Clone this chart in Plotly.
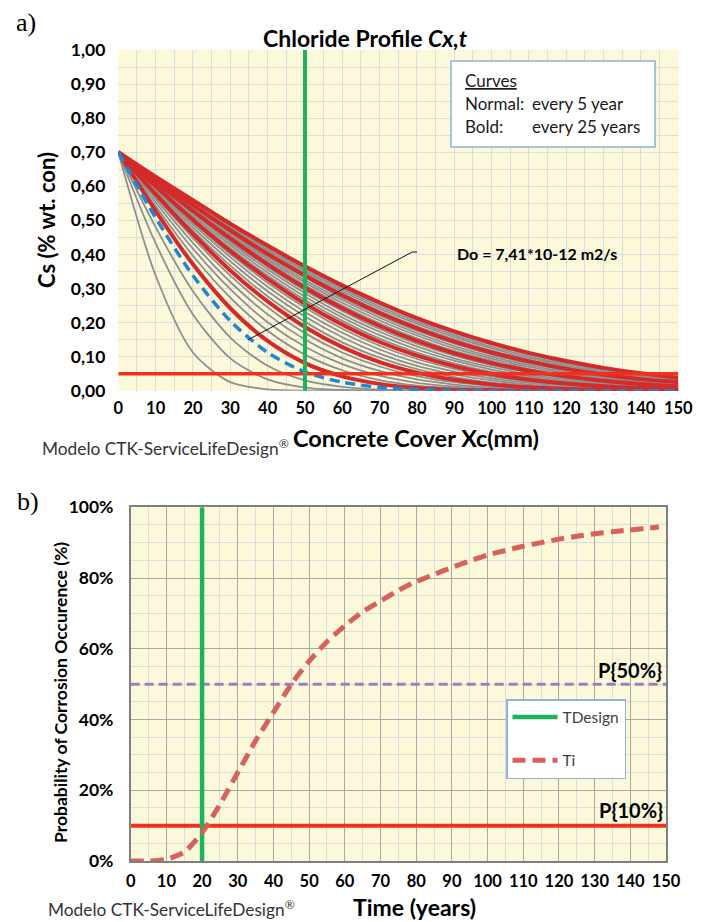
import plotly.graph_objects as go

# ---------------- data: chart a) chloride profiles ----------------
COVER_MM = [0, 10, 20, 30, 40, 50, 60, 70, 80, 90, 100, 110, 120, 130, 140, 150]
PROFILE_YEARS = [5, 10, 15, 20, 25, 30, 35, 40, 45, 50, 55, 60, 65, 70, 75,
                 80, 85, 90, 95, 100, 105, 110, 115, 120, 125, 130, 135, 140, 145, 150]
CHLORIDE_PROFILES = [
    [.700, .338, .112, .025, .004, 0, 0, 0, 0, 0, 0, 0, 0, 0, 0, 0],
    [.700, .433, .224, .095, .033, .009, .002, 0, 0, 0, 0, 0, 0, 0, 0, 0],
    [.700, .480, .292, .156, .073, .030, .011, .003, .001, 0, 0, 0, 0, 0, 0, 0],
    [.700, .508, .338, .205, .112, .055, .025, .010, .003, .001, 0, 0, 0, 0, 0, 0],
    [.700, .528, .371, .242, .146, .081, .042, .020, .008, .003, .001, 0, 0, 0, 0, 0],
    [.700, .542, .396, .273, .176, .106, .060, .031, .015, .007, .003, .001, 0, 0, 0, 0],
    [.700, .553, .417, .298, .201, .129, .078, .044, .023, .012, .005, .002, .001, 0, 0, 0],
    [.700, .563, .434, .319, .224, .150, .095, .058, .033, .018, .009, .004, .002, .001, 0, 0],
    [.700, .570, .448, .338, .245, .169, .112, .071, .043, .025, .014, .007, .003, .002, .001, 0],
    [.700, .577, .460, .353, .262, .187, .128, .084, .053, .032, .018, .010, .005, .003, .001, .001],
    [.700, .582, .470, .367, .277, .202, .142, .097, .063, .040, .024, .014, .008, .004, .002, .001],
    [.700, .587, .479, .380, .292, .218, .157, .109, .073, .048, .030, .018, .011, .006, .003, .002],
    [.700, .592, .488, .392, .305, .231, .170, .121, .083, .056, .036, .023, .014, .008, .005, .002],
    [.700, .596, .495, .401, .317, .244, .182, .132, .093, .064, .042, .027, .017, .010, .006, .003],
    [.700, .600, .501, .410, .328, .255, .194, .143, .103, .072, .049, .032, .021, .013, .008, .004],
    [.700, .603, .508, .419, .338, .266, .205, .153, .112, .080, .055, .038, .025, .016, .010, .006],
    [.700, .606, .513, .427, .347, .276, .215, .163, .121, .088, .062, .043, .029, .019, .012, .007],
    [.700, .608, .519, .434, .356, .286, .224, .173, .130, .095, .069, .048, .033, .022, .015, .009],
    [.700, .610, .523, .440, .363, .294, .234, .181, .138, .103, .075, .053, .037, .025, .017, .011],
    [.700, .613, .528, .447, .371, .302, .242, .190, .146, .110, .081, .059, .042, .029, .020, .013],
    [.700, .615, .531, .452, .378, .310, .250, .198, .154, .117, .088, .064, .046, .032, .022, .015],
    [.700, .617, .535, .457, .384, .318, .258, .206, .162, .124, .094, .070, .051, .036, .025, .017],
    [.700, .618, .539, .462, .390, .325, .266, .214, .169, .131, .100, .075, .055, .040, .028, .020],
    [.700, .620, .542, .467, .396, .332, .272, .221, .176, .138, .106, .080, .060, .044, .031, .022],
    [.700, .622, .545, .471, .401, .338, .280, .228, .183, .144, .112, .086, .064, .047, .034, .025],
    [.700, .623, .548, .476, .407, .344, .286, .234, .189, .151, .118, .091, .069, .051, .038, .027],
    [.700, .624, .551, .480, .412, .350, .292, .241, .196, .157, .124, .096, .073, .055, .041, .030],
    [.700, .626, .553, .483, .417, .355, .298, .247, .202, .163, .129, .101, .078, .059, .044, .033],
    [.700, .627, .556, .487, .421, .360, .303, .253, .208, .169, .135, .106, .082, .063, .047, .035],
    [.700, .628, .559, .490, .426, .365, .309, .259, .213, .174, .140, .111, .087, .067, .051, .038],
]
BOLD_EVERY_YEARS = 25
DESIGN_YEAR_PROFILE = 20          # dashed blue profile
DESIGN_COVER_MM = 50              # green vertical line
CRITICAL_CHLORIDE = 0.05          # red horizontal line
LEADER_X = [34.7, 78.7, 80.0]     # leader line of the Do note (data units)
LEADER_Y = [0.149, 0.407, 0.407]
X_TICKS_A = list(range(0, 151, 10))
Y_TICKS_A = [i / 10 for i in range(11)]

# ---------------- data: chart b) probability of corrosion ----------------
TIME_YEARS = [0, 5, 10, 15, 20, 25, 30, 35, 40, 45, 50, 55, 60, 65, 70, 75, 80,
              85, 90, 95, 100, 105, 110, 115, 120, 125, 130, 135, 140, 145, 148]
P_TI = [0.0, 0.0, 0.005, 0.025, 0.08, 0.16, 0.25, 0.34, 0.42, 0.50, 0.565, 0.62,
        0.665, 0.705, 0.735, 0.765, 0.79, 0.81, 0.83, 0.848, 0.865, 0.878, 0.89,
        0.90, 0.91, 0.918, 0.925, 0.931, 0.936, 0.941, 0.944]
T_DESIGN = 20
P_LIMIT_50 = 0.50
P_LIMIT_10 = 0.10
X_TICKS_B = list(range(0, 151, 10))
Y_TICKS_B = [0, 0.2, 0.4, 0.6, 0.8, 1.0]

W, H = 706, 922
FONT = "Lato"


def px(x):
    return x / W


def py(y):
    return 1 - y / H


fig = go.Figure()

GRAY = "#8E8E8E"
RED = "#D42A2A"
BLUE = "#1F86D2"
GREEN = "#20B25B"
LINE_RED = "#F2301F"

# gray normal profiles
for yr, vals in zip(PROFILE_YEARS, CHLORIDE_PROFILES):
    if yr % BOLD_EVERY_YEARS == 0 or yr == DESIGN_YEAR_PROFILE:
        continue
    fig.add_trace(go.Scatter(x=COVER_MM, y=vals, mode="lines", xaxis="x", yaxis="y",
                             line=dict(color=GRAY, width=1.8, shape="spline", smoothing=0.8),
                             showlegend=False, hoverinfo="skip"))
# bold profiles
for yr, vals in zip(PROFILE_YEARS, CHLORIDE_PROFILES):
    if yr % BOLD_EVERY_YEARS != 0:
        continue
    fig.add_trace(go.Scatter(x=COVER_MM, y=vals, mode="lines", xaxis="x", yaxis="y",
                             line=dict(color=RED, width=4, shape="spline", smoothing=0.8),
                             showlegend=False, hoverinfo="skip"))
# design profile
design_vals = CHLORIDE_PROFILES[PROFILE_YEARS.index(DESIGN_YEAR_PROFILE)]
fig.add_trace(go.Scatter(x=COVER_MM, y=design_vals, mode="lines", xaxis="x", yaxis="y",
                         line=dict(color=BLUE, width=3.5, dash="10px,6px", shape="spline", smoothing=0.8),
                         showlegend=False, hoverinfo="skip"))
# critical chloride line and design cover line
fig.add_trace(go.Scatter(x=[X_TICKS_A[0], X_TICKS_A[-1]], y=[CRITICAL_CHLORIDE] * 2,
                         mode="lines", xaxis="x", yaxis="y",
                         line=dict(color=LINE_RED, width=3.5), showlegend=False, hoverinfo="skip"))
fig.add_trace(go.Scatter(x=[DESIGN_COVER_MM] * 2, y=[Y_TICKS_A[0], Y_TICKS_A[-1]],
                         mode="lines", xaxis="x", yaxis="y",
                         line=dict(color=GREEN, width=4), showlegend=False, hoverinfo="skip"))
# leader line of note
fig.add_trace(go.Scatter(x=LEADER_X, y=LEADER_Y, mode="lines", xaxis="x", yaxis="y",
                         line=dict(color="#111111", width=1), showlegend=False, hoverinfo="skip"))

# ---------- chart b ----------
fig.add_trace(go.Scatter(x=[X_TICKS_B[0], X_TICKS_B[-1]], y=[P_LIMIT_10] * 2, mode="lines",
                         xaxis="x2", yaxis="y2", line=dict(color=LINE_RED, width=4),
                         showlegend=False, hoverinfo="skip"))
fig.add_trace(go.Scatter(x=[X_TICKS_B[0], X_TICKS_B[-1]], y=[P_LIMIT_50] * 2, mode="lines",
                         xaxis="x2", yaxis="y2", line=dict(color="#9A7FBF", width=3, dash="9px,5px"),
                         showlegend=False, hoverinfo="skip"))
fig.add_trace(go.Scatter(x=[T_DESIGN] * 2, y=[Y_TICKS_B[0], Y_TICKS_B[-1]], mode="lines",
                         xaxis="x2", yaxis="y2", line=dict(color=GREEN, width=4.5),
                         name="TDesign", legendgroup="a", hoverinfo="skip"))
fig.add_trace(go.Scatter(x=TIME_YEARS, y=P_TI, mode="lines", xaxis="x2", yaxis="y2",
                         line=dict(color="#D6625A", width=5, dash="13px,7px", shape="spline", smoothing=0.6),
                         name="Ti", legendgroup="b", hoverinfo="skip"))

ytickfont = dict(family=FONT, size=17.5, color="black", weight="bold")
xtickfont = dict(family=FONT, size=16.5, color="black", weight="bold")
LIGHT = "#DCDCDC"
DARK = "#A8A8A8"

fig.update_layout(
    template="none",
    width=W, height=H,
    margin=dict(l=0, r=0, t=0, b=0),
    paper_bgcolor="white",
    separators=",.",
    showlegend=True,
    xaxis=dict(domain=[px(118.3), px(678.3)], range=[0, 150], anchor="y",
               tickvals=X_TICKS_A, ticks="", tickfont=xtickfont, ticklabelstandoff=6,
               showgrid=True, gridcolor=LIGHT, gridwidth=1, zeroline=False, showline=False,
               minor=dict(dtick=5, showgrid=True, gridcolor=LIGHT, gridwidth=1),
               automargin=False, fixedrange=True),
    yaxis=dict(domain=[py(390.7), py(50)], range=[0, 1], anchor="x",
               tickvals=Y_TICKS_A, tickformat=".2f", ticks="", tickfont=ytickfont,
               ticklabelstandoff=12,
               showgrid=True, gridcolor=LIGHT, gridwidth=1, zeroline=False, showline=False,
               minor=dict(dtick=0.05, showgrid=True, gridcolor=LIGHT, gridwidth=1),
               automargin=False, fixedrange=True),
    xaxis2=dict(domain=[px(130.7), px(666)], range=[0, 150], anchor="y2",
                tickvals=X_TICKS_B, ticks="", tickfont=xtickfont, ticklabelstandoff=4,
                showgrid=True, gridcolor=DARK, gridwidth=1, zeroline=False,
                showline=True, linecolor="#7F7F7F", linewidth=1.5, mirror=True,
                minor=dict(dtick=5, showgrid=True, gridcolor=LIGHT, gridwidth=1),
                automargin=False, fixedrange=True),
    yaxis2=dict(domain=[py(861), py(507.3)], range=[0, 1], anchor="x2",
                tickvals=Y_TICKS_B, tickformat=".0%", ticks="", tickfont=ytickfont,
                ticklabelstandoff=12,
                showgrid=True, gridcolor=DARK, gridwidth=1, zeroline=False,
                showline=True, linecolor="#7F7F7F", linewidth=1.5, mirror=True,
                minor=dict(dtick=0.05, showgrid=True, gridcolor=LIGHT, gridwidth=1),
                automargin=False, fixedrange=True),
    plot_bgcolor="#FBF9DA",
    legend=dict(x=px(506), y=py(699), xanchor="left", yanchor="top",
                bgcolor="white", bordercolor="#8FB4DC", borderwidth=1.5,
                font=dict(family=FONT, size=15.5, color="#404040"),
                traceorder="grouped", tracegroupgap=20, itemwidth=45),
)

# legend box of chart a
fig.add_shape(type="rect", xref="paper", yref="paper",
              x0=px(451), x1=px(655), y0=py(147), y1=py(61),
              fillcolor="white", line=dict(color="#8FB0D9", width=1.5), layer="above")


def note(text, x, y, size, xanchor="center", bold=False, angle=0, family=FONT, color="black"):
    fig.add_annotation(text=text, xref="paper", yref="paper", x=px(x), y=py(y),
                       xanchor=xanchor, yanchor="middle", showarrow=False, textangle=angle,
                       font=dict(family=family, size=size, color=color,
                                 weight="bold" if bold else "normal"))


note("a)", 14, 22, 26, xanchor="left", family="Liberation Serif")
note("b)", 15, 501, 26, xanchor="left", family="Liberation Serif")
note("Chloride Profile <i>Cx,t</i>", 365, 38, 23, bold=True)
note("<u>Curves</u>", 463, 80, 17, xanchor="left", color="#1a1a1a")
note("Normal:", 463, 103, 17, xanchor="left", color="#1a1a1a")
note("every 5 year", 530, 103, 17, xanchor="left", color="#1a1a1a")
note("Bold:", 463, 126, 17, xanchor="left", color="#1a1a1a")
note("every 25 years", 530, 126, 17, xanchor="left", color="#1a1a1a")
note("Do = 7,41*10-12 m2/s", 455, 253, 16, xanchor="left", bold=True)
note("Cs (% wt. con)", 47, 220, 22, bold=True, angle=-90)
note("Concrete Cover Xc(mm)", 416, 438, 23.5, bold=True)
note("Modelo CTK-ServiceLifeDesign<sup>®</sup>", 40, 447, 17.3, xanchor="left", color="#333333")
note("Probability of Corrosion Occurence (%)", 60, 693, 17.5, bold=True, angle=-90)
note("Time (years)", 414, 907, 23, bold=True)
note("Modelo CTK-ServiceLifeDesign<sup>®</sup>", 46, 908, 17.3, xanchor="left", color="#333333")
note("P{50%}", 664, 670, 20, xanchor="right", bold=True)
note("P{10%}", 665, 810, 20, xanchor="right", bold=True)

fig.write_html("out.html")
